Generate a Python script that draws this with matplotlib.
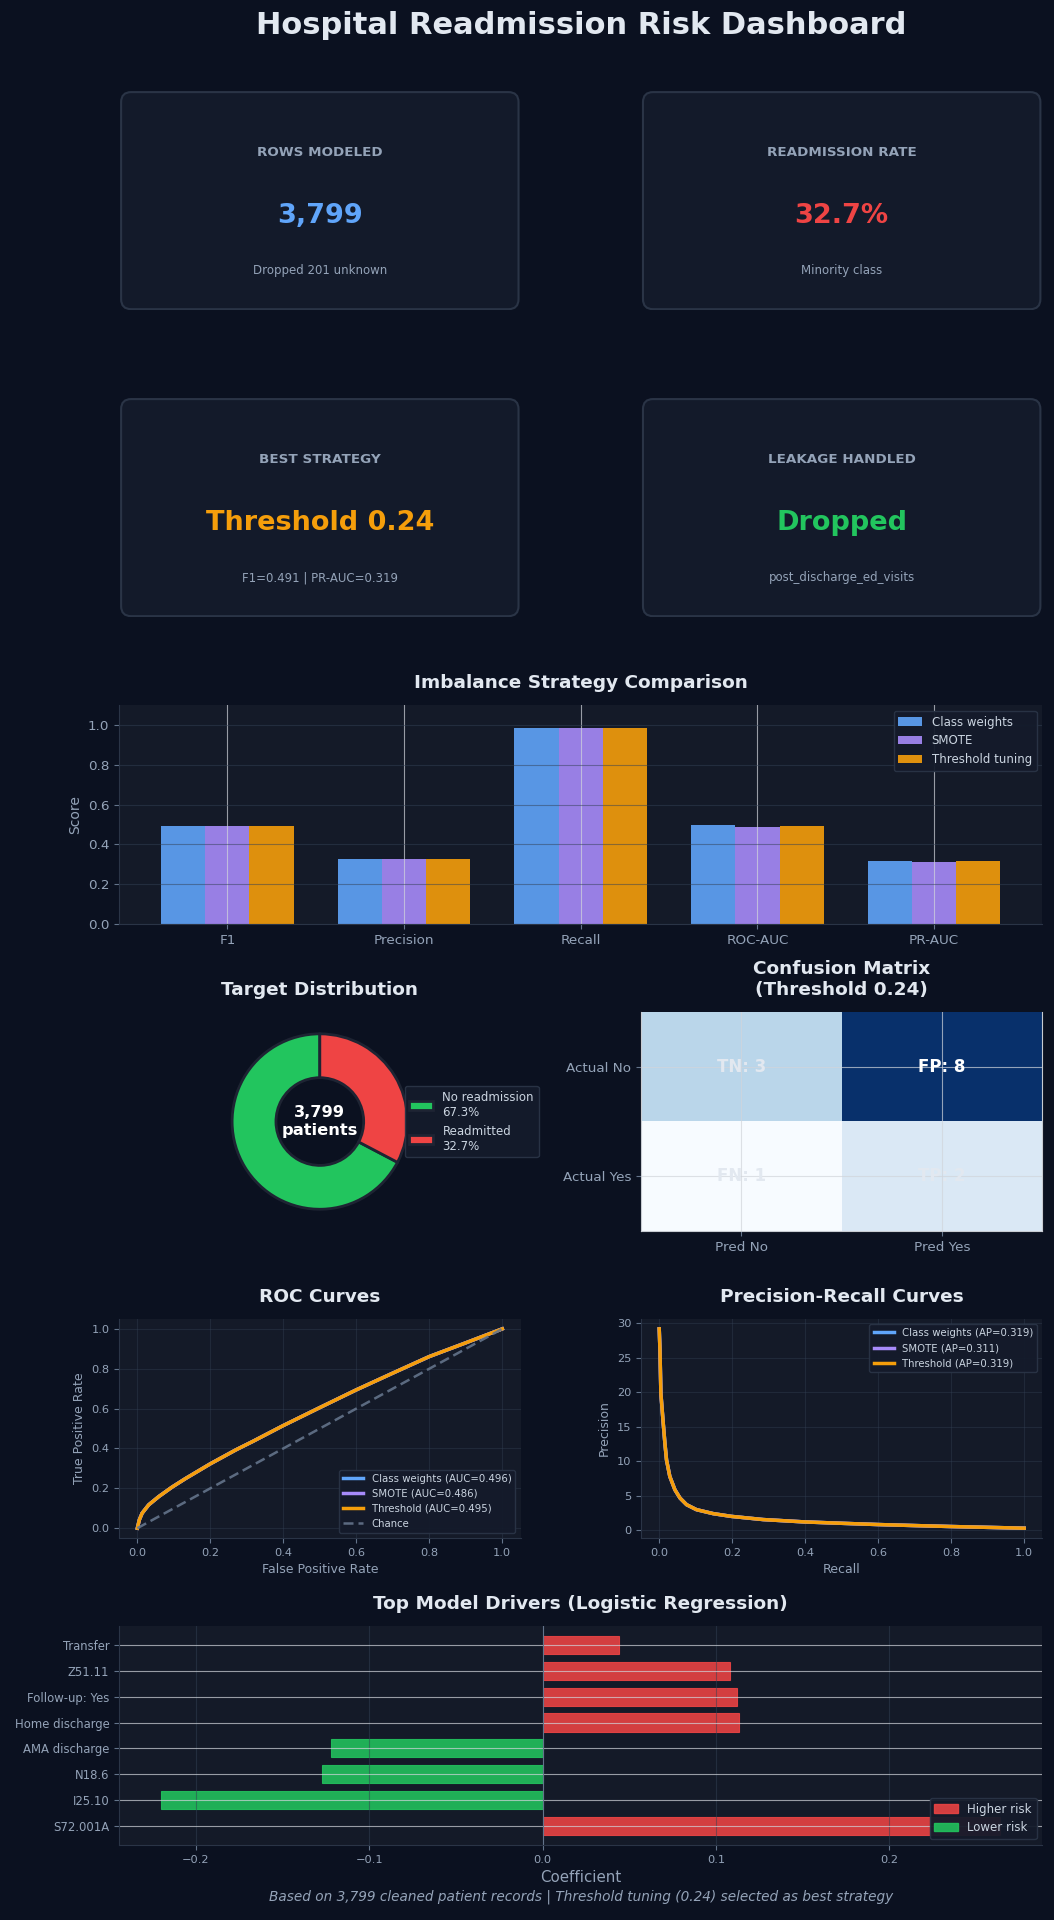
import matplotlib
matplotlib.use('Agg')
import matplotlib.pyplot as plt
from matplotlib.patches import FancyBboxPatch, Patch
import numpy as np

# ---- data ----
kpi_labels = ['ROWS MODELED', 'READMISSION RATE', 'BEST STRATEGY', 'LEAKAGE HANDLED']
kpi_values = ['3,799', '32.7%', 'Threshold 0.24', 'Dropped']
kpi_notes = ['Dropped 201 unknown', 'Minority class', 'F1=0.491 | PR-AUC=0.319', 'post_discharge_ed_visits']
kpi_colors = ['#60a5fa', '#ef4444', '#f59e0b', '#22c55e']

metrics = ['F1', 'Precision', 'Recall', 'ROC-AUC', 'PR-AUC']
strategies = ['Class weights', 'SMOTE', 'Threshold tuning']
class_weights_scores = [0.491, 0.326, 0.986, 0.496, 0.319]
smote_scores = [0.491, 0.326, 0.986, 0.486, 0.311]
threshold_scores = [0.491, 0.326, 0.986, 0.495, 0.319]

target_labels = ['No readmission\n67.3%', 'Readmitted\n32.7%']
target_counts = [2557, 1242]
n_patients = 3799

cm_values = [[3, 8], [1, 2]]
cm_names = [['TN', 'FP'], ['FN', 'TP']]
cm_xlabels = ['Pred No', 'Pred Yes']
cm_ylabels = ['Actual No', 'Actual Yes']

roc_fpr = [0.0, 0.0055, 0.013, 0.031, 0.059, 0.095, 0.132, 0.2, 0.27, 0.316, 0.4, 0.5, 0.6, 0.7, 0.8, 0.9, 1.0]
roc_tpr = [0.0, 0.042, 0.075, 0.117, 0.159, 0.206, 0.249, 0.323, 0.393, 0.435, 0.515, 0.605, 0.694, 0.778, 0.861, 0.93, 1.0]
roc_labels = ['Class weights (AUC=0.496)', 'SMOTE (AUC=0.486)', 'Threshold (AUC=0.495)']

pr_recall = [0.0, 0.002, 0.0046, 0.008, 0.011, 0.0156, 0.02, 0.029, 0.043, 0.057, 0.075,
             0.102, 0.148, 0.198, 0.285, 0.398, 0.5, 0.598, 0.7, 0.8, 0.9, 1.0]
pr_precision = [29.2, 26.2, 19.8, 17.5, 15.5, 12.6, 10.2, 7.8, 5.86, 4.66, 3.7,
                2.98, 2.4, 2.0, 1.54, 1.2, 1.0, 0.82, 0.67, 0.53, 0.41, 0.29]
pr_labels = ['Class weights (AP=0.319)', 'SMOTE (AP=0.311)', 'Threshold (AP=0.319)']

features = ['S72.001A', 'I25.10', 'N18.6', 'AMA discharge', 'Home discharge', 'Follow-up: Yes', 'Z51.11', 'Transfer']
coefs = [0.264, -0.220, -0.127, -0.122, 0.113, 0.112, 0.108, 0.044]

# ---- style ----
BG = '#0b1120'
PANEL = '#141a28'
CARD = '#131a2a'
EDGE = '#2a3446'
MUTED = '#94a3b8'
TITLE = '#e2e8f0'
BLUE, PURPLE, ORANGE = '#60a5fa', '#a78bfa', '#f59e0b'
RED, GREEN = '#ef4444', '#22c55e'

plt.rcParams.update({
    'font.family': 'DejaVu Sans',
    'figure.facecolor': BG,
    'axes.facecolor': PANEL,
    'axes.edgecolor': EDGE,
    'axes.labelcolor': MUTED,
    'axes.labelsize': 9,
    'axes.titlesize': 13.3,
    'axes.titleweight': 'bold',
    'axes.titlecolor': TITLE,
    'axes.titlepad': 12,
    'axes.grid': True,
    'axes.spines.top': False,
    'axes.spines.right': False,
    'grid.color': '#d1d5db',
    'grid.alpha': 0.7,
    'grid.linewidth': 0.8,
    'xtick.color': '#64748b',
    'ytick.color': '#64748b',
    'xtick.labelcolor': MUTED,
    'ytick.labelcolor': MUTED,
    'xtick.labelsize': 8.2,
    'ytick.labelsize': 8.2,
    'legend.facecolor': '#141b2b',
    'legend.edgecolor': EDGE,
    'legend.labelcolor': '#cbd5e1',
    'legend.framealpha': 0.95,
    'text.color': TITLE,
})

fig = plt.figure(figsize=(10.54, 19.2), dpi=100)
gs = fig.add_gridspec(6, 2, left=0.113, right=0.989, top=0.9526, bottom=0.039,
                      hspace=0.4, wspace=0.3)

fig.text(0.551, 0.9868, 'Hospital Readmission Risk Dashboard', ha='center', va='center',
         fontsize=22, fontweight='bold', color=TITLE)

# KPI cards
for i in range(4):
    ax = fig.add_subplot(gs[i // 2, i % 2])
    ax.set_axis_off()
    ax.set_xlim(0, 1)
    ax.set_ylim(0, 1)
    card = FancyBboxPatch((0.005, 0.005), 0.99, 0.99,
                          boxstyle='round,pad=0,rounding_size=0.025',
                          mutation_aspect=401 / 219,
                          facecolor=CARD, edgecolor=EDGE, linewidth=1.5,
                          transform=ax.transAxes)
    ax.add_patch(card)
    ax.text(0.5, 0.72, kpi_labels[i], ha='center', va='center', fontsize=9.7,
            fontweight='bold', color=MUTED)
    ax.text(0.5, 0.43, kpi_values[i], ha='center', va='center', fontsize=19.5,
            fontweight='bold', color=kpi_colors[i])
    ax.text(0.5, 0.18, kpi_notes[i], ha='center', va='center', fontsize=8.5, color=MUTED)

# Strategy comparison
ax = fig.add_subplot(gs[2, :])
x = np.arange(len(metrics))
w = 0.25
ax.bar(x - w, class_weights_scores, w, color=BLUE, alpha=0.9, label=strategies[0])
ax.bar(x, smote_scores, w, color=PURPLE, alpha=0.9, label=strategies[1])
ax.bar(x + w, threshold_scores, w, color=ORANGE, alpha=0.9, label=strategies[2])
ax.set_xticks(x)
ax.set_xticklabels(metrics)
ax.set_ylim(0, 1.1)
ax.set_ylabel('Score', fontsize=10)
ax.set_title('Imbalance Strategy Comparison')
ax.tick_params(labelsize=9.7)
ax.grid(axis='y', color='#334155', alpha=0.5)
ax.legend(loc='upper right', fontsize=8.5)

# Target distribution donut
ax = fig.add_subplot(gs[3, 0])
wedges, _ = ax.pie(target_counts, colors=[GREEN, RED], startangle=90,
                   wedgeprops=dict(width=0.5, edgecolor='#1e2433', linewidth=2))
ax.text(0, 0, f'{n_patients:,}\npatients', ha='center', va='center', fontsize=11.7,
        fontweight='bold', color='white')
ax.set_title('Target Distribution')
ax.legend(wedges, target_labels, loc='center left', bbox_to_anchor=(0.86, 0.5), fontsize=8.5)

# Confusion matrix
ax = fig.add_subplot(gs[3, 1])
cm = np.array(cm_values)
ax.imshow(cm, cmap='Blues', aspect='auto')
ax.set_xticks([0, 1])
ax.set_xticklabels(cm_xlabels)
ax.set_yticks([0, 1])
ax.set_yticklabels(cm_ylabels)
ax.tick_params(labelsize=9.7)
for s in ['left', 'bottom', 'right']:
    ax.spines[s].set_visible(True)
    ax.spines[s].set_color('#c8ccd2')
for r in range(2):
    for c in range(2):
        v = cm[r, c]
        ax.text(c, r, f'{cm_names[r][c]}: {v}', ha='center', va='center', fontsize=12,
                fontweight='bold', color='white' if v > cm.max() / 2 else '#e2e8f0')
ax.set_title('Confusion Matrix\n(Threshold 0.24)')

# ROC curves
ax = fig.add_subplot(gs[4, 0])
ax.plot(roc_fpr, roc_tpr, color=BLUE, lw=2.5, label=roc_labels[0])
ax.plot(roc_fpr, roc_tpr, color=PURPLE, lw=2.5, label=roc_labels[1])
ax.plot(roc_fpr, roc_tpr, color=ORANGE, lw=2.5, label=roc_labels[2])
ax.plot([0, 1], [0, 1], color='#64748b', lw=1.8, dashes=(4, 2), alpha=0.9, label='Chance')
ax.set_xlabel('False Positive Rate')
ax.set_ylabel('True Positive Rate')
ax.set_title('ROC Curves')
ax.grid(color='#334155', alpha=0.4)
ax.legend(loc='lower right', fontsize=7.3)

# PR curves
ax = fig.add_subplot(gs[4, 1])
ax.plot(pr_recall, pr_precision, color=BLUE, lw=2.5, label=pr_labels[0])
ax.plot(pr_recall, pr_precision, color=PURPLE, lw=2.5, label=pr_labels[1])
ax.plot(pr_recall, pr_precision, color=ORANGE, lw=2.5, label=pr_labels[2])
ax.set_xlabel('Recall')
ax.set_ylabel('Precision')
ax.set_title('Precision-Recall Curves')
ax.grid(color='#334155', alpha=0.4)
ax.legend(loc='upper right', fontsize=7.3)

# Model drivers
ax = fig.add_subplot(gs[5, :])
bar_colors = [RED if c > 0 else GREEN for c in coefs]
ax.barh(np.arange(len(features)), coefs, height=0.7, color=bar_colors, alpha=0.88,
        edgecolor=bar_colors, linewidth=0.8)
ax.set_yticks(np.arange(len(features)))
ax.set_yticklabels(features)
ax.axvline(0, color='#64748b', lw=0.8)
ax.set_xlabel('Coefficient', fontsize=10.8)
ax.set_title('Top Model Drivers (Logistic Regression)')
ax.tick_params(axis='y', labelsize=8.4)
ax.grid(axis='x', color='#334155', alpha=0.5)
ax.legend(handles=[Patch(color=RED, alpha=0.88, label='Higher risk'),
                   Patch(color=GREEN, alpha=0.88, label='Lower risk')],
          loc='lower right', fontsize=8.5)

fig.text(0.551, 0.012, 'Based on 3,799 cleaned patient records | Threshold tuning (0.24) selected as best strategy',
         ha='center', va='center', fontsize=9.8, style='italic', color=MUTED)

fig.savefig('out.png', dpi=100, facecolor=BG)
